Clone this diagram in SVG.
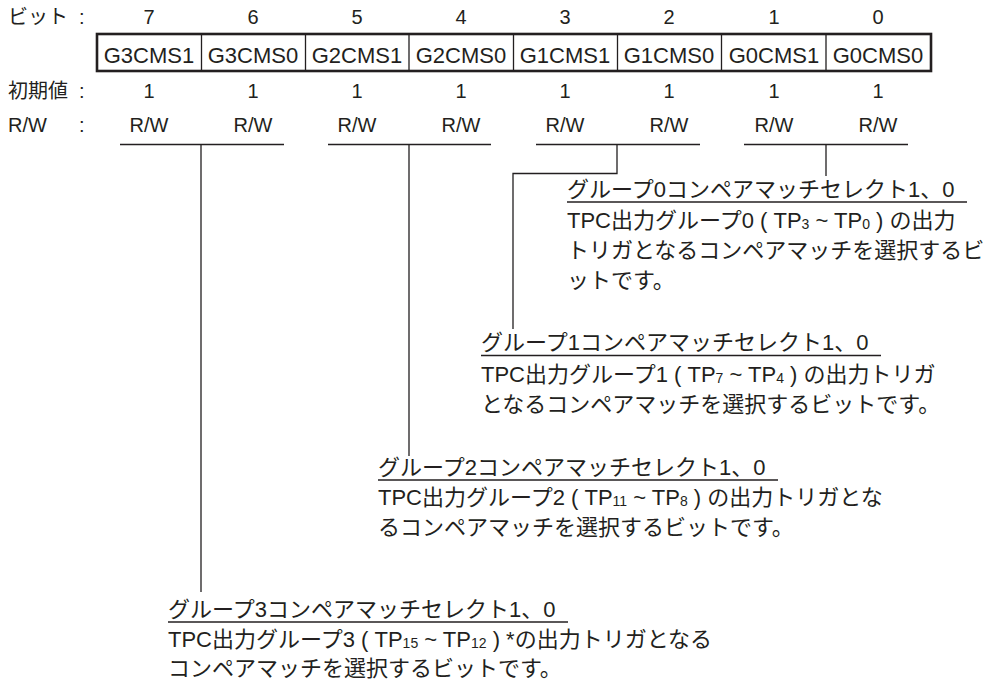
<svg xmlns="http://www.w3.org/2000/svg" width="993" height="689" viewBox="0 0 993 689">
<style>
text{font-family:"Liberation Sans","Noto Sans CJK JP",sans-serif;fill:#231f20}
.t20{font-size:20px}
.cell{font-size:22px;text-anchor:middle}
.mid{text-anchor:middle}
.jp{font-size:22px}
.sub{font-size:14px}
.ln{stroke:#231f20;stroke-width:1.3;fill:none}
.box{stroke:#231f20;stroke-width:2.6;fill:#fff}
</style>
<rect width="993" height="689" fill="#fff"/>
<g id="row-labels" class="t20">
<text x="8" y="24">ビット</text><text x="79" y="24">:</text>
<text x="8" y="98">初期値</text><text x="79" y="98">:</text>
<text x="8" y="132">R/W</text><text x="79" y="132">:</text>
</g>
<g id="bit-numbers" class="t20 mid">
<text x="149" y="24">7</text><text x="253" y="24">6</text><text x="357" y="24">5</text><text x="461" y="24">4</text>
<text x="565" y="24">3</text><text x="669" y="24">2</text><text x="774" y="24">1</text><text x="878" y="24">0</text>
</g>
<g id="register">
<rect class="box" x="97" y="34" width="834" height="37"/>
<path class="ln" d="M201.5 34V71M305.5 34V71M409 34V71M513.5 34V71M617.5 34V71M721.5 34V71M826 34V71"/>
<text class="cell" x="149" y="63">G3CMS1</text>
<text class="cell" x="253" y="63">G3CMS0</text>
<text class="cell" x="357" y="63">G2CMS1</text>
<text class="cell" x="461" y="63">G2CMS0</text>
<text class="cell" x="565" y="63">G1CMS1</text>
<text class="cell" x="669" y="63">G1CMS0</text>
<text class="cell" x="774" y="63">G0CMS1</text>
<text class="cell" x="878" y="63">G0CMS0</text>
</g>
<g id="initial-values" class="t20 mid">
<text x="149" y="98">1</text><text x="253" y="98">1</text><text x="357" y="98">1</text><text x="461" y="98">1</text>
<text x="565" y="98">1</text><text x="669" y="98">1</text><text x="774" y="98">1</text><text x="878" y="98">1</text>
</g>
<g id="rw" class="t20 mid">
<text x="149" y="132">R/W</text><text x="253" y="132">R/W</text><text x="357" y="132">R/W</text><text x="461" y="132">R/W</text>
<text x="565" y="132">R/W</text><text x="669" y="132">R/W</text><text x="774" y="132">R/W</text><text x="878" y="132">R/W</text>
</g>
<g id="connectors" class="ln">
<path d="M120 144.5H284M201 144.5V592"/>
<path d="M328 144.5H491M409 144.5V456"/>
<path d="M536 144.5H700M617 144.5V173.5H513V329"/>
<path d="M744 144.5H908M826 144.5V176"/>
</g>
<g id="group0" class="jp" xml:space="preserve">
<text x="567" y="197">グループ0コンペアマッチセレクト1、0</text>
<line class="ln" x1="567" y1="202" x2="967" y2="202"/>
<text x="567" y="228">TPC出力グループ0 ( TP<tspan class="sub" dy="1">3</tspan><tspan dy="-1"> ~ TP</tspan><tspan class="sub" dy="1">0</tspan><tspan dy="-1"> ) の出力</tspan></text>
<text x="567" y="258">トリガとなるコンペアマッチを選択するビ</text>
<text x="567" y="288">ットです。</text>
</g>
<g id="group1" class="jp" xml:space="preserve">
<text x="481" y="350">グループ1コンペアマッチセレクト1、0</text>
<line class="ln" x1="481" y1="355.5" x2="881" y2="355.5"/>
<text x="481" y="382">TPC出力グループ1 ( TP<tspan class="sub" dy="1">7</tspan><tspan dy="-1"> ~ TP</tspan><tspan class="sub" dy="1">4</tspan><tspan dy="-1"> ) の出力トリガ</tspan></text>
<text x="481" y="412">となるコンペアマッチを選択するビットです。</text>
</g>
<g id="group2" class="jp" xml:space="preserve">
<text x="378" y="475">グループ2コンペアマッチセレクト1、0</text>
<line class="ln" x1="378" y1="480" x2="778" y2="480"/>
<text x="378" y="505">TPC出力グループ2 ( TP<tspan class="sub" dy="1">11</tspan><tspan dy="-1"> ~ TP</tspan><tspan class="sub" dy="1">8</tspan><tspan dy="-1"> ) の出力トリガとな</tspan></text>
<text x="378" y="535">るコンペアマッチを選択するビットです。</text>
</g>
<g id="group3" class="jp" xml:space="preserve">
<text x="168" y="617">グループ3コンペアマッチセレクト1、0</text>
<line class="ln" x1="168" y1="622" x2="568" y2="622"/>
<text x="168" y="647">TPC出力グループ3 ( TP<tspan class="sub" dy="1">15</tspan><tspan dy="-1"> ~ TP</tspan><tspan class="sub" dy="1">12</tspan><tspan dy="-1"> ) *の出力トリガとなる</tspan></text>
<text x="168" y="676">コンペアマッチを選択するビットです。</text>
</g>
</svg>
